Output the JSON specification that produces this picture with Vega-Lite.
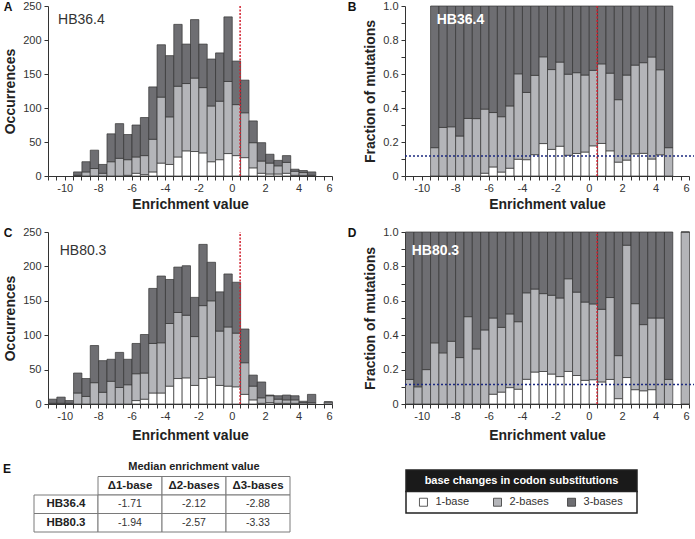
{
  "$schema": "https://vega.github.io/schema/vega-lite/v6.json",
  "background": "white",
  "padding": {"left": 3, "top": 0, "right": 0, "bottom": 0},
  "config": {
    "font": "Liberation Sans",
    "view": {"stroke": null},
    "axis": {
      "labelFont": "Liberation Sans", "labelFontSize": 11, "labelColor": "#333",
      "titleFont": "Liberation Sans", "titleFontSize": 14, "titleFontWeight": "bold", "titleColor": "#222",
      "domainColor": "#333", "tickColor": "#333", "grid": false, "tickSize": 4,
      "labelOverlap": false
    },
    "title": {"font": "Liberation Sans", "fontSize": 12, "fontWeight": "bold", "color": "#111"}
  },
  "datasets": {
    "hb36": [
      {"lo": -9.5, "hi": -9, "1-base": 0, "2-bases": 1, "3-bases": 5},
      {"lo": -9, "hi": -8.5, "1-base": 0, "2-bases": 6, "3-bases": 15},
      {"lo": -8.5, "hi": -8, "1-base": 0, "2-bases": 11, "3-bases": 27},
      {"lo": -8, "hi": -7.5, "1-base": 0, "2-bases": 4, "3-bases": 13},
      {"lo": -7.5, "hi": -7, "1-base": 0, "2-bases": 21, "3-bases": 41},
      {"lo": -7, "hi": -6.5, "1-base": 0, "2-bases": 26, "3-bases": 51},
      {"lo": -6.5, "hi": -6, "1-base": 1, "2-bases": 23, "3-bases": 37},
      {"lo": -6, "hi": -5.5, "1-base": 4, "2-bases": 24, "3-bases": 47},
      {"lo": -5.5, "hi": -5, "1-base": 2, "2-bases": 28, "3-bases": 56},
      {"lo": -5, "hi": -4.5, "1-base": 6, "2-bases": 48, "3-bases": 77},
      {"lo": -4.5, "hi": -4, "1-base": 19, "2-bases": 97, "3-bases": 77},
      {"lo": -4, "hi": -3.5, "1-base": 17, "2-bases": 70, "3-bases": 90},
      {"lo": -3.5, "hi": -3, "1-base": 28, "2-bases": 104, "3-bases": 91},
      {"lo": -3, "hi": -2.5, "1-base": 37, "2-bases": 99, "3-bases": 58},
      {"lo": -2.5, "hi": -2, "1-base": 36, "2-bases": 108, "3-bases": 86},
      {"lo": -2, "hi": -1.5, "1-base": 34, "2-bases": 96, "3-bases": 64},
      {"lo": -1.5, "hi": -1, "1-base": 21, "2-bases": 82, "3-bases": 69},
      {"lo": -1, "hi": -0.5, "1-base": 24, "2-bases": 86, "3-bases": 71},
      {"lo": -0.5, "hi": 0, "1-base": 33, "2-bases": 106, "3-bases": 95},
      {"lo": 0, "hi": 0.5, "1-base": 30, "2-bases": 75, "3-bases": 64},
      {"lo": 0.5, "hi": 1, "1-base": 27, "2-bases": 66, "3-bases": 48},
      {"lo": 1, "hi": 1.5, "1-base": 12, "2-bases": 37, "3-bases": 32},
      {"lo": 1.5, "hi": 2, "1-base": 4, "2-bases": 18, "3-bases": 27},
      {"lo": 2, "hi": 2.5, "1-base": 3, "2-bases": 16, "3-bases": 13},
      {"lo": 2.5, "hi": 3, "1-base": 3, "2-bases": 12, "3-bases": 8},
      {"lo": 3, "hi": 3.5, "1-base": 4, "2-bases": 16, "3-bases": 10},
      {"lo": 3.5, "hi": 4, "1-base": 1, "2-bases": 6, "3-bases": 3},
      {"lo": 4, "hi": 4.5, "1-base": 1, "2-bases": 4, "3-bases": 3},
      {"lo": 4.5, "hi": 5, "1-base": 0, "2-bases": 1, "3-bases": 5}
    ],
    "hb80": [
      {"lo": -11, "hi": -10.5, "1-base": 0, "2-bases": 1, "3-bases": 6},
      {"lo": -10.5, "hi": -10, "1-base": 0, "2-bases": 1, "3-bases": 9},
      {"lo": -10, "hi": -9.5, "1-base": 0, "2-bases": 1, "3-bases": 4},
      {"lo": -9.5, "hi": -9, "1-base": 0, "2-bases": 16, "3-bases": 29},
      {"lo": -9, "hi": -8.5, "1-base": 0, "2-bases": 11, "3-bases": 26},
      {"lo": -8.5, "hi": -8, "1-base": 0, "2-bases": 31, "3-bases": 54},
      {"lo": -8, "hi": -7.5, "1-base": 0, "2-bases": 17, "3-bases": 46},
      {"lo": -7.5, "hi": -7, "1-base": 0, "2-bases": 33, "3-bases": 32},
      {"lo": -7, "hi": -6.5, "1-base": 0, "2-bases": 24, "3-bases": 51},
      {"lo": -6.5, "hi": -6, "1-base": 0, "2-bases": 28, "3-bases": 37},
      {"lo": -6, "hi": -5.5, "1-base": 5, "2-bases": 39, "3-bases": 44},
      {"lo": -5.5, "hi": -5, "1-base": 7, "2-bases": 38, "3-bases": 56},
      {"lo": -5, "hi": -4.5, "1-base": 16, "2-bases": 72, "3-bases": 80},
      {"lo": -4.5, "hi": -4, "1-base": 16, "2-bases": 73, "3-bases": 97},
      {"lo": -4, "hi": -3.5, "1-base": 26, "2-bases": 91, "3-bases": 64},
      {"lo": -3.5, "hi": -3, "1-base": 37, "2-bases": 96, "3-bases": 66},
      {"lo": -3, "hi": -2.5, "1-base": 38, "2-bases": 91, "3-bases": 72},
      {"lo": -2.5, "hi": -2, "1-base": 27, "2-bases": 71, "3-bases": 57},
      {"lo": -2, "hi": -1.5, "1-base": 37, "2-bases": 106, "3-bases": 89},
      {"lo": -1.5, "hi": -1, "1-base": 39, "2-bases": 111, "3-bases": 56},
      {"lo": -1, "hi": -0.5, "1-base": 27, "2-bases": 79, "3-bases": 57},
      {"lo": -0.5, "hi": 0, "1-base": 26, "2-bases": 86, "3-bases": 77},
      {"lo": 0, "hi": 0.5, "1-base": 25, "2-bases": 78, "3-bases": 74},
      {"lo": 0.5, "hi": 1, "1-base": 14, "2-bases": 46, "3-bases": 49},
      {"lo": 1, "hi": 1.5, "1-base": 6, "2-bases": 20, "3-bases": 16},
      {"lo": 1.5, "hi": 2, "1-base": 1, "2-bases": 8, "3-bases": 23},
      {"lo": 2, "hi": 2.5, "1-base": 2, "2-bases": 10, "3-bases": 1},
      {"lo": 2.5, "hi": 3, "1-base": 1, "2-bases": 6, "3-bases": 5},
      {"lo": 3, "hi": 3.5, "1-base": 1, "2-bases": 5, "3-bases": 7},
      {"lo": 3.5, "hi": 4, "1-base": 1, "2-bases": 5, "3-bases": 6},
      {"lo": 4, "hi": 4.5, "1-base": 0, "2-bases": 2, "3-bases": 2},
      {"lo": 4.5, "hi": 5, "1-base": 0, "2-bases": 2, "3-bases": 12},
      {"lo": 5.5, "hi": 6, "1-base": 0, "2-bases": 3, "3-bases": 0}
    ],
    "cells": [
      {"c": "d1", "r": "header", "t": "Δ1-base", "b": true},
      {"c": "d2", "r": "header", "t": "Δ2-bases", "b": true},
      {"c": "d3", "r": "header", "t": "Δ3-bases", "b": true},
      {"c": "rl", "r": "HB36.4", "t": "HB36.4", "b": true},
      {"c": "d1", "r": "HB36.4", "t": "-1.71", "b": false},
      {"c": "d2", "r": "HB36.4", "t": "-2.12", "b": false},
      {"c": "d3", "r": "HB36.4", "t": "-2.88", "b": false},
      {"c": "rl", "r": "HB80.3", "t": "HB80.3", "b": true},
      {"c": "d1", "r": "HB80.3", "t": "-1.94", "b": false},
      {"c": "d2", "r": "HB80.3", "t": "-2.57", "b": false},
      {"c": "d3", "r": "HB80.3", "t": "-3.33", "b": false}
    ]
  },
  "concat": [
    {
      "concat": [
        {
          "hconcat": [
            {
              "width": 284, "height": 170,
              "title": {"text": "A", "anchor": "start", "frame": "bounds", "offset": -14},
              "layer": [
                {
                  "data": {"name": "hb36"},
                  "transform": [{"fold": ["1-base", "2-bases", "3-bases"], "as": ["type", "n"]}],
                  "mark": {"type": "bar", "stroke": "#333", "strokeWidth": 0.7, "binSpacing": 0},
                  "encoding": {
                    "x": {"field": "lo", "type": "quantitative", "bin": {"binned": true}, "title": "Enrichment value",
                      "scale": {"domain": [-11, 6], "nice": false, "zero": false},
                      "axis": {"values": [-11,-10.5,-10,-9.5,-9,-8.5,-8,-7.5,-7,-6.5,-6,-5.5,-5,-4.5,-4,-3.5,-3,-2.5,-2,-1.5,-1,-0.5,0,0.5,1,1.5,2,2.5,3,3.5,4,4.5,5,5.5,6], "labelExpr": "datum.value % 2 == 0 ? toString(datum.value) : ''", "labelPadding": 2, "titlePadding": 4, "labelOverlap": false}},
                    "x2": {"field": "hi"},
                    "y": {"field": "n", "type": "quantitative", "stack": "zero", "title": "Occurrences",
                      "scale": {"domain": [0, 250], "nice": false},
                      "axis": {"values": [0, 50, 100, 150, 200, 250], "labelPadding": 3, "titlePadding": 5, "labelOverlap": false}},
                    "color": {"field": "type", "type": "nominal", "legend": null,
                      "scale": {"domain": ["1-base", "2-bases", "3-bases"], "range": ["#ffffff", "#b4b5b9", "#6e6e72"]}},
                    "order": {"field": "type", "type": "nominal", "sort": "ascending"}
                  }
                },
                {
                  "data": {"values": [{}]},
                  "mark": {"type": "rule", "color": "#d0202e", "strokeDash": [2, 1.5], "strokeWidth": 1.5},
                  "encoding": {
                    "x": {"datum": 0.5, "type": "quantitative", "title": "Enrichment value", "axis": {"values": [-11,-10.5,-10,-9.5,-9,-8.5,-8,-7.5,-7,-6.5,-6,-5.5,-5,-4.5,-4,-3.5,-3,-2.5,-2,-1.5,-1,-0.5,0,0.5,1,1.5,2,2.5,3,3.5,4,4.5,5,5.5,6], "labelExpr": "datum.value % 2 == 0 ? toString(datum.value) : ''", "labelPadding": 2, "titlePadding": 4, "labelOverlap": false}},
                    "y": {"datum": 0, "type": "quantitative", "title": "Occurrences", "axis": {"values": [0, 50, 100, 150, 200, 250], "labelPadding": 3, "titlePadding": 5, "labelOverlap": false}},
                    "y2": {"datum": 250}
                  }
                },
                {
                  "data": {"values": [{}]},
                  "mark": {"type": "text", "align": "left", "baseline": "middle", "fontSize": 14, "color": "#333"},
                  "encoding": {
                    "x": {"datum": -10.4, "type": "quantitative", "title": "Enrichment value", "axis": {"values": [-11,-10.5,-10,-9.5,-9,-8.5,-8,-7.5,-7,-6.5,-6,-5.5,-5,-4.5,-4,-3.5,-3,-2.5,-2,-1.5,-1,-0.5,0,0.5,1,1.5,2,2.5,3,3.5,4,4.5,5,5.5,6], "labelExpr": "datum.value % 2 == 0 ? toString(datum.value) : ''", "labelPadding": 2, "titlePadding": 4, "labelOverlap": false}},
                    "y": {"datum": 230, "type": "quantitative", "title": "Occurrences", "axis": {"values": [0, 50, 100, 150, 200, 250], "labelPadding": 3, "titlePadding": 5, "labelOverlap": false}},
                    "text": {"value": "HB36.4"}
                  }
                }
              ]
            },
            {
              "width": 284, "height": 170,
              "title": {"text": "B", "anchor": "start", "frame": "bounds", "offset": -14, "dx": -16},
              "layer": [
                {
                  "data": {"name": "hb36"},
                  "transform": [{"fold": ["1-base", "2-bases", "3-bases"], "as": ["type", "n"]}],
                  "mark": {"type": "bar", "stroke": "#333", "strokeWidth": 0.7, "binSpacing": 0},
                  "encoding": {
                    "x": {"field": "lo", "type": "quantitative", "bin": {"binned": true}, "title": "Enrichment value",
                      "scale": {"domain": [-11, 6], "nice": false, "zero": false},
                      "axis": {"values": [-11,-10.5,-10,-9.5,-9,-8.5,-8,-7.5,-7,-6.5,-6,-5.5,-5,-4.5,-4,-3.5,-3,-2.5,-2,-1.5,-1,-0.5,0,0.5,1,1.5,2,2.5,3,3.5,4,4.5,5,5.5,6], "labelExpr": "datum.value % 2 == 0 ? toString(datum.value) : ''", "labelPadding": 2, "titlePadding": 4, "labelOverlap": false}},
                    "x2": {"field": "hi"},
                    "y": {"field": "n", "type": "quantitative", "stack": "normalize", "title": "Fraction of mutations",
                      "scale": {"domain": [0, 1], "nice": false},
                      "axis": {"values": [0, 0.1, 0.2, 0.3, 0.4, 0.5, 0.6, 0.7, 0.8, 0.9, 1], "labelExpr": "round(datum.value * 10) % 2 == 0 ? (datum.value == 0 ? '0' : format(datum.value, '.1f')) : ''", "labelPadding": 3, "titlePadding": 5, "labelOverlap": false}},
                    "color": {"field": "type", "type": "nominal", "legend": null,
                      "scale": {"domain": ["1-base", "2-bases", "3-bases"], "range": ["#ffffff", "#b4b5b9", "#6e6e72"]}},
                    "order": {"field": "type", "type": "nominal", "sort": "ascending"}
                  }
                },
                {
                  "data": {"values": [{}]},
                  "mark": {"type": "rule", "color": "#d0202e", "strokeDash": [2, 1.5], "strokeWidth": 1.5},
                  "encoding": {
                    "x": {"datum": 0.5, "type": "quantitative", "title": "Enrichment value", "axis": {"values": [-11,-10.5,-10,-9.5,-9,-8.5,-8,-7.5,-7,-6.5,-6,-5.5,-5,-4.5,-4,-3.5,-3,-2.5,-2,-1.5,-1,-0.5,0,0.5,1,1.5,2,2.5,3,3.5,4,4.5,5,5.5,6], "labelExpr": "datum.value % 2 == 0 ? toString(datum.value) : ''", "labelPadding": 2, "titlePadding": 4, "labelOverlap": false}},
                    "y": {"datum": 0, "type": "quantitative", "title": "Fraction of mutations", "axis": {"values": [0, 0.1, 0.2, 0.3, 0.4, 0.5, 0.6, 0.7, 0.8, 0.9, 1], "labelExpr": "round(datum.value * 10) % 2 == 0 ? (datum.value == 0 ? '0' : format(datum.value, '.1f')) : ''", "labelPadding": 3, "titlePadding": 5, "labelOverlap": false}},
                    "y2": {"datum": 1}
                  }
                },
                {
                  "data": {"values": [{}]},
                  "mark": {"type": "rule", "color": "#1c2a80", "strokeDash": [2, 2], "strokeWidth": 1.5, "clip": false},
                  "encoding": {
                    "x": {"datum": -11, "type": "quantitative", "title": "Enrichment value", "axis": {"values": [-11,-10.5,-10,-9.5,-9,-8.5,-8,-7.5,-7,-6.5,-6,-5.5,-5,-4.5,-4,-3.5,-3,-2.5,-2,-1.5,-1,-0.5,0,0.5,1,1.5,2,2.5,3,3.5,4,4.5,5,5.5,6], "labelExpr": "datum.value % 2 == 0 ? toString(datum.value) : ''", "labelPadding": 2, "titlePadding": 4, "labelOverlap": false}},
                    "x2": {"datum": 6.3},
                    "y": {"datum": 0.117, "type": "quantitative", "title": "Fraction of mutations", "axis": {"values": [0, 0.1, 0.2, 0.3, 0.4, 0.5, 0.6, 0.7, 0.8, 0.9, 1], "labelExpr": "round(datum.value * 10) % 2 == 0 ? (datum.value == 0 ? '0' : format(datum.value, '.1f')) : ''", "labelPadding": 3, "titlePadding": 5, "labelOverlap": false}}
                  }
                },
                {
                  "data": {"values": [{}]},
                  "mark": {"type": "text", "align": "left", "baseline": "middle", "fontSize": 14, "fontWeight": "bold", "color": "#ffffff"},
                  "encoding": {
                    "x": {"datum": -9.1, "type": "quantitative", "title": "Enrichment value", "axis": {"values": [-11,-10.5,-10,-9.5,-9,-8.5,-8,-7.5,-7,-6.5,-6,-5.5,-5,-4.5,-4,-3.5,-3,-2.5,-2,-1.5,-1,-0.5,0,0.5,1,1.5,2,2.5,3,3.5,4,4.5,5,5.5,6], "labelExpr": "datum.value % 2 == 0 ? toString(datum.value) : ''", "labelPadding": 2, "titlePadding": 4, "labelOverlap": false}},
                    "y": {"datum": 0.92, "type": "quantitative", "title": "Fraction of mutations", "axis": {"values": [0, 0.1, 0.2, 0.3, 0.4, 0.5, 0.6, 0.7, 0.8, 0.9, 1], "labelExpr": "round(datum.value * 10) % 2 == 0 ? (datum.value == 0 ? '0' : format(datum.value, '.1f')) : ''", "labelPadding": 3, "titlePadding": 5, "labelOverlap": false}},
                    "text": {"value": "HB36.4"}
                  }
                }
              ]
            }
          ],
          "spacing": 14
        },
        {
          "hconcat": [
            {
              "width": 284, "height": 172,
              "title": {"text": "C", "anchor": "start", "frame": "bounds", "offset": -14},
              "layer": [
                {
                  "data": {"name": "hb80"},
                  "transform": [{"fold": ["1-base", "2-bases", "3-bases"], "as": ["type", "n"]}],
                  "mark": {"type": "bar", "stroke": "#333", "strokeWidth": 0.7, "binSpacing": 0},
                  "encoding": {
                    "x": {"field": "lo", "type": "quantitative", "bin": {"binned": true}, "title": "Enrichment value",
                      "scale": {"domain": [-11, 6], "nice": false, "zero": false},
                      "axis": {"values": [-11,-10.5,-10,-9.5,-9,-8.5,-8,-7.5,-7,-6.5,-6,-5.5,-5,-4.5,-4,-3.5,-3,-2.5,-2,-1.5,-1,-0.5,0,0.5,1,1.5,2,2.5,3,3.5,4,4.5,5,5.5,6], "labelExpr": "datum.value % 2 == 0 ? toString(datum.value) : ''", "labelPadding": 2, "titlePadding": 7, "labelOverlap": false}},
                    "x2": {"field": "hi"},
                    "y": {"field": "n", "type": "quantitative", "stack": "zero", "title": "Occurrences",
                      "scale": {"domain": [0, 250], "nice": false},
                      "axis": {"values": [0, 50, 100, 150, 200, 250], "labelPadding": 3, "titlePadding": 5, "labelOverlap": false}},
                    "color": {"field": "type", "type": "nominal", "legend": null,
                      "scale": {"domain": ["1-base", "2-bases", "3-bases"], "range": ["#ffffff", "#b4b5b9", "#6e6e72"]}},
                    "order": {"field": "type", "type": "nominal", "sort": "ascending"}
                  }
                },
                {
                  "data": {"values": [{}]},
                  "mark": {"type": "rule", "color": "#d0202e", "strokeDash": [2, 1.5], "strokeWidth": 1.5},
                  "encoding": {
                    "x": {"datum": 0.5, "type": "quantitative", "title": "Enrichment value", "axis": {"values": [-11,-10.5,-10,-9.5,-9,-8.5,-8,-7.5,-7,-6.5,-6,-5.5,-5,-4.5,-4,-3.5,-3,-2.5,-2,-1.5,-1,-0.5,0,0.5,1,1.5,2,2.5,3,3.5,4,4.5,5,5.5,6], "labelExpr": "datum.value % 2 == 0 ? toString(datum.value) : ''", "labelPadding": 2, "titlePadding": 7, "labelOverlap": false}},
                    "y": {"datum": 0, "type": "quantitative", "title": "Occurrences", "axis": {"values": [0, 50, 100, 150, 200, 250], "labelPadding": 3, "titlePadding": 5, "labelOverlap": false}},
                    "y2": {"datum": 250}
                  }
                },
                {
                  "data": {"values": [{}]},
                  "mark": {"type": "text", "align": "left", "baseline": "middle", "fontSize": 14, "color": "#333"},
                  "encoding": {
                    "x": {"datum": -10.3, "type": "quantitative", "title": "Enrichment value", "axis": {"values": [-11,-10.5,-10,-9.5,-9,-8.5,-8,-7.5,-7,-6.5,-6,-5.5,-5,-4.5,-4,-3.5,-3,-2.5,-2,-1.5,-1,-0.5,0,0.5,1,1.5,2,2.5,3,3.5,4,4.5,5,5.5,6], "labelExpr": "datum.value % 2 == 0 ? toString(datum.value) : ''", "labelPadding": 2, "titlePadding": 7, "labelOverlap": false}},
                    "y": {"datum": 223, "type": "quantitative", "title": "Occurrences", "axis": {"values": [0, 50, 100, 150, 200, 250], "labelPadding": 3, "titlePadding": 5, "labelOverlap": false}},
                    "text": {"value": "HB80.3"}
                  }
                }
              ]
            },
            {
              "width": 284, "height": 172,
              "title": {"text": "D", "anchor": "start", "frame": "bounds", "offset": -14, "dx": -16},
              "layer": [
                {
                  "data": {"name": "hb80"},
                  "transform": [{"fold": ["1-base", "2-bases", "3-bases"], "as": ["type", "n"]}],
                  "mark": {"type": "bar", "stroke": "#333", "strokeWidth": 0.7, "binSpacing": 0},
                  "encoding": {
                    "x": {"field": "lo", "type": "quantitative", "bin": {"binned": true}, "title": "Enrichment value",
                      "scale": {"domain": [-11, 6], "nice": false, "zero": false},
                      "axis": {"values": [-11,-10.5,-10,-9.5,-9,-8.5,-8,-7.5,-7,-6.5,-6,-5.5,-5,-4.5,-4,-3.5,-3,-2.5,-2,-1.5,-1,-0.5,0,0.5,1,1.5,2,2.5,3,3.5,4,4.5,5,5.5,6], "labelExpr": "datum.value % 2 == 0 ? toString(datum.value) : ''", "labelPadding": 2, "titlePadding": 7, "labelOverlap": false}},
                    "x2": {"field": "hi"},
                    "y": {"field": "n", "type": "quantitative", "stack": "normalize", "title": "Fraction of mutations",
                      "scale": {"domain": [0, 1], "nice": false},
                      "axis": {"values": [0, 0.1, 0.2, 0.3, 0.4, 0.5, 0.6, 0.7, 0.8, 0.9, 1], "labelExpr": "round(datum.value * 10) % 2 == 0 ? (datum.value == 0 ? '0' : format(datum.value, '.1f')) : ''", "labelPadding": 3, "titlePadding": 5, "labelOverlap": false}},
                    "color": {"field": "type", "type": "nominal", "legend": null,
                      "scale": {"domain": ["1-base", "2-bases", "3-bases"], "range": ["#ffffff", "#b4b5b9", "#6e6e72"]}},
                    "order": {"field": "type", "type": "nominal", "sort": "ascending"}
                  }
                },
                {
                  "data": {"values": [{}]},
                  "mark": {"type": "rule", "color": "#d0202e", "strokeDash": [2, 1.5], "strokeWidth": 1.5},
                  "encoding": {
                    "x": {"datum": 0.5, "type": "quantitative", "title": "Enrichment value", "axis": {"values": [-11,-10.5,-10,-9.5,-9,-8.5,-8,-7.5,-7,-6.5,-6,-5.5,-5,-4.5,-4,-3.5,-3,-2.5,-2,-1.5,-1,-0.5,0,0.5,1,1.5,2,2.5,3,3.5,4,4.5,5,5.5,6], "labelExpr": "datum.value % 2 == 0 ? toString(datum.value) : ''", "labelPadding": 2, "titlePadding": 7, "labelOverlap": false}},
                    "y": {"datum": 0, "type": "quantitative", "title": "Fraction of mutations", "axis": {"values": [0, 0.1, 0.2, 0.3, 0.4, 0.5, 0.6, 0.7, 0.8, 0.9, 1], "labelExpr": "round(datum.value * 10) % 2 == 0 ? (datum.value == 0 ? '0' : format(datum.value, '.1f')) : ''", "labelPadding": 3, "titlePadding": 5, "labelOverlap": false}},
                    "y2": {"datum": 1}
                  }
                },
                {
                  "data": {"values": [{}]},
                  "mark": {"type": "rule", "color": "#1c2a80", "strokeDash": [2, 2], "strokeWidth": 1.5, "clip": false},
                  "encoding": {
                    "x": {"datum": -11, "type": "quantitative", "title": "Enrichment value", "axis": {"values": [-11,-10.5,-10,-9.5,-9,-8.5,-8,-7.5,-7,-6.5,-6,-5.5,-5,-4.5,-4,-3.5,-3,-2.5,-2,-1.5,-1,-0.5,0,0.5,1,1.5,2,2.5,3,3.5,4,4.5,5,5.5,6], "labelExpr": "datum.value % 2 == 0 ? toString(datum.value) : ''", "labelPadding": 2, "titlePadding": 7, "labelOverlap": false}},
                    "x2": {"datum": 6.3},
                    "y": {"datum": 0.114, "type": "quantitative", "title": "Fraction of mutations", "axis": {"values": [0, 0.1, 0.2, 0.3, 0.4, 0.5, 0.6, 0.7, 0.8, 0.9, 1], "labelExpr": "round(datum.value * 10) % 2 == 0 ? (datum.value == 0 ? '0' : format(datum.value, '.1f')) : ''", "labelPadding": 3, "titlePadding": 5, "labelOverlap": false}}
                  }
                },
                {
                  "data": {"values": [{}]},
                  "mark": {"type": "text", "align": "left", "baseline": "middle", "fontSize": 14, "fontWeight": "bold", "color": "#ffffff"},
                  "encoding": {
                    "x": {"datum": -10.6, "type": "quantitative", "title": "Enrichment value", "axis": {"values": [-11,-10.5,-10,-9.5,-9,-8.5,-8,-7.5,-7,-6.5,-6,-5.5,-5,-4.5,-4,-3.5,-3,-2.5,-2,-1.5,-1,-0.5,0,0.5,1,1.5,2,2.5,3,3.5,4,4.5,5,5.5,6], "labelExpr": "datum.value % 2 == 0 ? toString(datum.value) : ''", "labelPadding": 2, "titlePadding": 7, "labelOverlap": false}},
                    "y": {"datum": 0.89, "type": "quantitative", "title": "Fraction of mutations", "axis": {"values": [0, 0.1, 0.2, 0.3, 0.4, 0.5, 0.6, 0.7, 0.8, 0.9, 1], "labelExpr": "round(datum.value * 10) % 2 == 0 ? (datum.value == 0 ? '0' : format(datum.value, '.1f')) : ''", "labelPadding": 3, "titlePadding": 5, "labelOverlap": false}},
                    "text": {"value": "HB80.3"}
                  }
                }
              ]
            }
          ],
          "spacing": 14
        }
      ],
      "columns": 1,
      "align": "none",
      "spacing": 15
    },
    {
      "hconcat": [
        {
          "width": 242, "height": 74,
          "title": {"text": "E", "anchor": "start", "frame": "group", "dx": -45, "offset": -18},
          "layer": [
            {
              "data": {"name": "cells"},
              "mark": {"type": "rect", "fill": "#ffffff", "stroke": "#7a7a7a", "strokeWidth": 1},
              "encoding": {
                "x": {"field": "c", "type": "nominal", "axis": null, "scale": {"domain": ["rl", "d1", "d2", "d3"], "range": [-14, 242], "paddingInner": 0, "paddingOuter": 0}},
                "y": {"field": "r", "type": "nominal", "axis": null, "scale": {"domain": ["title", "header", "HB36.4", "HB80.3"], "paddingInner": 0, "paddingOuter": 0}}
              }
            },
            {
              "data": {"name": "cells"},
              "transform": [{"filter": "datum.b"}],
              "mark": {"type": "text", "fontSize": 11.5, "fontWeight": "bold", "color": "#222", "baseline": "middle"},
              "encoding": {
                "x": {"field": "c", "type": "nominal", "axis": null},
                "y": {"field": "r", "type": "nominal", "axis": null},
                "text": {"field": "t"}
              }
            },
            {
              "data": {"name": "cells"},
              "transform": [{"filter": "!datum.b"}],
              "mark": {"type": "text", "fontSize": 10.5, "color": "#333", "baseline": "middle"},
              "encoding": {
                "x": {"field": "c", "type": "nominal", "axis": null},
                "y": {"field": "r", "type": "nominal", "axis": null},
                "text": {"field": "t"}
              }
            },
            {
              "data": {"values": [{"c": "d2", "r": "title", "t": "Median enrichment value"}]},
              "mark": {"type": "text", "fontSize": 11, "fontWeight": "bold", "color": "#222", "baseline": "middle"},
              "encoding": {
                "x": {"field": "c", "type": "nominal", "axis": null},
                "y": {"field": "r", "type": "nominal", "axis": null},
                "text": {"field": "t"}
              }
            }
          ]
        },
        {
          "width": 231, "height": 55,
          "layer": [
            {
              "data": {"values": [{"part": "header"}, {"part": "items"}]},
              "mark": {"type": "rect", "stroke": "#222", "strokeWidth": 1.5},
              "encoding": {
                "y": {"field": "part", "type": "nominal", "axis": null,
                  "scale": {"domain": ["header", "items"], "paddingInner": 0, "paddingOuter": 0.279, "align": 1}},
                "fill": {"field": "part", "type": "nominal", "legend": null,
                  "scale": {"domain": ["header", "items"], "range": ["#1a1a1a", "#ffffff"]}}
              }
            },
            {
              "data": {"values": [{"part": "header", "label": "base changes in codon substitutions"}]},
              "mark": {"type": "text", "fontSize": 11, "fontWeight": "bold", "color": "#ffffff", "baseline": "middle"},
              "encoding": {
                "y": {"field": "part", "type": "nominal", "axis": null},
                "text": {"field": "label"}
              }
            },
            {
              "data": {"values": [{"part": "items", "cat": "1-base"}, {"part": "items", "cat": "2-bases"}, {"part": "items", "cat": "3-bases"}]},
              "mark": {"type": "square", "size": 64, "filled": true, "opacity": 1, "stroke": "#333", "strokeWidth": 0.8, "xOffset": -24},
              "encoding": {
                "x": {"field": "cat", "type": "nominal", "axis": null, "scale": {"type": "point", "domain": ["1-base", "2-bases", "3-bases"], "padding": 0.56}},
                "y": {"field": "part", "type": "nominal", "axis": null},
                "color": {"field": "cat", "type": "nominal", "legend": null,
                  "scale": {"domain": ["1-base", "2-bases", "3-bases"], "range": ["#ffffff", "#b4b5b9", "#6e6e72"]}}
              }
            },
            {
              "data": {"values": [{"part": "items", "cat": "1-base"}, {"part": "items", "cat": "2-bases"}, {"part": "items", "cat": "3-bases"}]},
              "mark": {"type": "text", "align": "left", "baseline": "middle", "dx": -12, "fontSize": 11, "color": "#333"},
              "encoding": {
                "x": {"field": "cat", "type": "nominal", "axis": null},
                "y": {"field": "part", "type": "nominal", "axis": null},
                "text": {"field": "cat"}
              }
            }
          ]
        }
      ],
      "spacing": 114
    }
  ],
  "columns": 1,
  "align": "none",
  "spacing": 16
}
